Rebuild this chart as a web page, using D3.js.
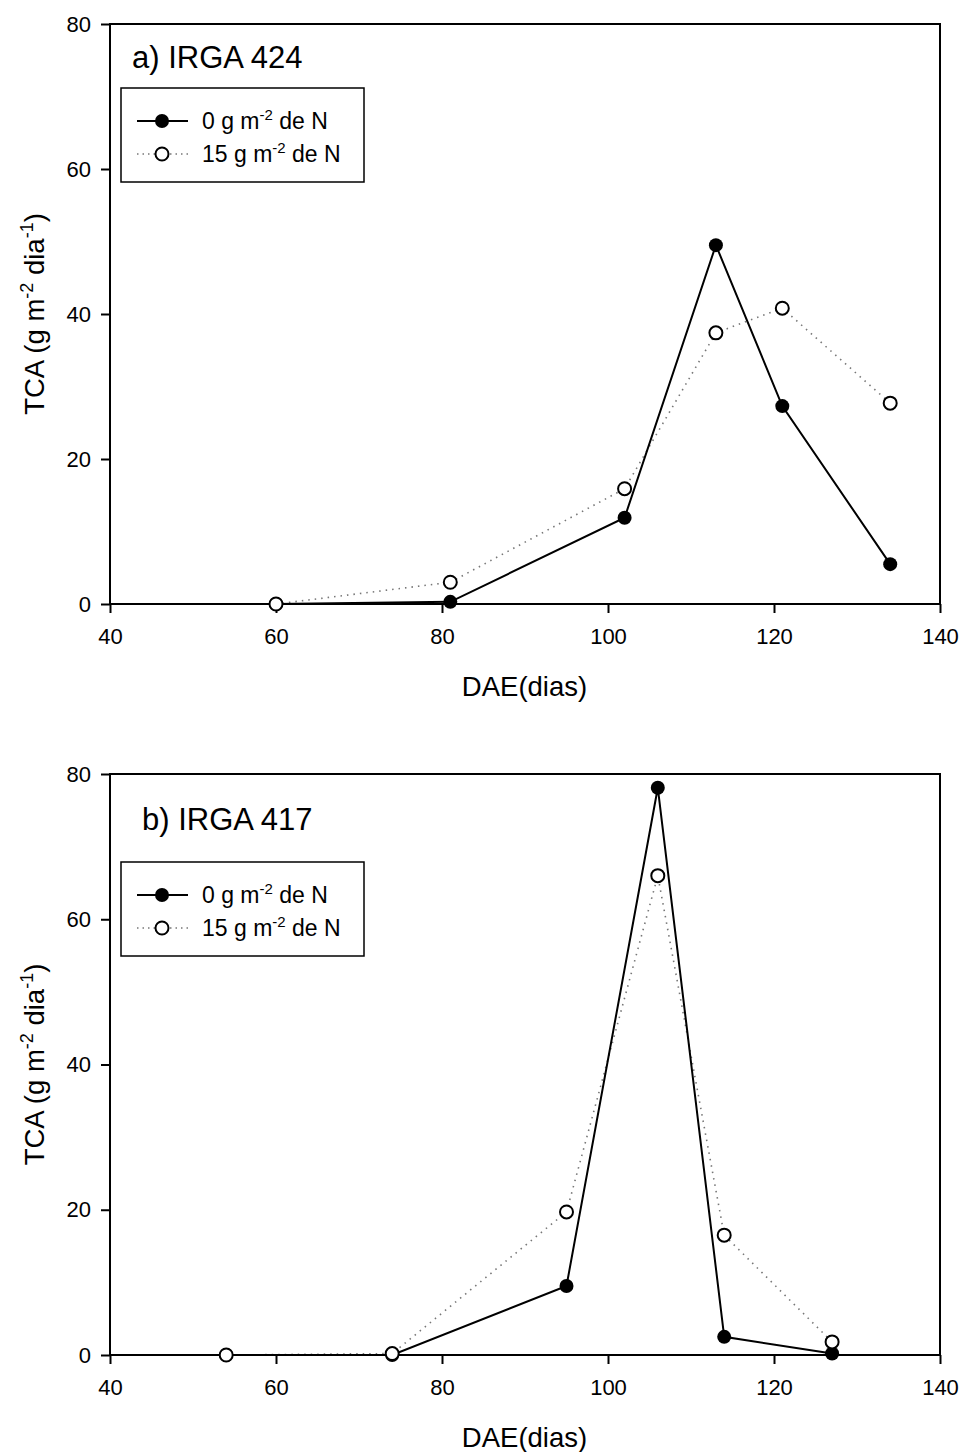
<!DOCTYPE html>
<html>
<head>
<meta charset="utf-8">
<script src="https://cdn.jsdelivr.net/npm/d3@7"></script>
<style>
  body { margin: 0; background: #fff; }
  text { font-family: Arial, "Liberation Sans", sans-serif; fill: #000; }
</style>
</head>
<body>
<svg id="chart" width="964" height="1452"></svg>
<script>
// panel a) IRGA 424
const daeA = [60, 81, 102, 113, 121, 134];
const n0A = [0, 0.3, 11.9, 49.5, 27.3, 5.5];
const n15A = [0, 3.0, 15.9, 37.4, 40.8, 27.7];

// panel b) IRGA 417
const daeB = [54, 74, 95, 106, 114, 127];
const n0B = [0, 0, 9.5, 78.1, 2.5, 0.2];
const n15B = [0, 0.2, 19.7, 66.0, 16.5, 1.8];

const xTicks = [40, 60, 80, 100, 120, 140];
const yTicks = [0, 20, 40, 60, 80];
const titles = ["a) IRGA 424", "b) IRGA 417"];
const seriesNames = [["0 g m", "-2", " de N"], ["15 g m", "-2", " de N"]];

const svg = d3.select("#chart");
const left = 110, right = 940;

function panel(top, bottom, dae, n0, n15, title, titleX, titleY, legTop) {
    const g = svg.append("g");
    const x = d3.scaleLinear().domain([40, 140]).range([left, right]);
    const y = d3.scaleLinear().domain([0, 80]).range([bottom, top]);

    // frame
    g.append("rect")
        .attr("x", left).attr("y", top)
        .attr("width", right - left).attr("height", bottom - top)
        .style("fill", "none").style("stroke", "#000").style("stroke-width", 2);

    // axes, ticks pointing out
    const xa = g.append("g").attr("transform", `translate(0,${bottom})`)
        .call(d3.axisBottom(x).tickValues(xTicks).tickSize(9).tickPadding(15).tickFormat(d3.format("d")));
    const ya = g.append("g").attr("transform", `translate(${left},0)`)
        .call(d3.axisLeft(y).tickValues(yTicks).tickSize(9).tickPadding(10).tickFormat(d3.format("d")));
    [xa, ya].forEach(a => {
        a.select(".domain").remove();
        a.selectAll(".tick line").style("stroke", "#000").style("stroke-width", 2);
        a.selectAll(".tick text").style("font-size", "22px").style("font-family", "Arial, 'Liberation Sans', sans-serif");
    });

    // axis titles
    g.append("text")
        .attr("x", (left + right) / 2 - 0.5).attr("y", bottom + 92)
        .style("text-anchor", "middle").style("font-size", "27.5px")
        .text("DAE(dias)");

    const yl = g.append("text")
        .attr("transform", `translate(44,${(top + bottom) / 2}) rotate(-90)`)
        .style("text-anchor", "middle").style("font-size", "27.5px");
    yl.append("tspan").text("TCA (g m");
    yl.append("tspan").attr("dy", -11).style("font-size", "18px").text("-2");
    yl.append("tspan").attr("dy", 11).text(" dia");
    yl.append("tspan").attr("dy", -11).style("font-size", "18px").text("-1");
    yl.append("tspan").attr("dy", 11).text(")");

    // lines
    const pts0 = dae.map((d, i) => [d, n0[i]]);
    const pts15 = dae.map((d, i) => [d, n15[i]]);
    const line = d3.line().x(d => x(d[0])).y(d => y(d[1]));

    g.append("path").datum(pts15).attr("d", line)
        .style("fill", "none").style("stroke", "#777").style("stroke-width", 1.6)
        .style("stroke-dasharray", "1.5,5");
    g.append("path").datum(pts0).attr("d", line)
        .style("fill", "none").style("stroke", "#000").style("stroke-width", 2);

    g.selectAll(".p0").data(pts0).join("circle")
        .attr("cx", d => x(d[0])).attr("cy", d => y(d[1])).attr("r", 7)
        .style("fill", "#000");
    g.selectAll(".p15").data(pts15).join("circle")
        .attr("cx", d => x(d[0])).attr("cy", d => y(d[1])).attr("r", 6.5)
        .style("fill", "#fff").style("stroke", "#000").style("stroke-width", 2);

    // panel title
    g.append("text").attr("x", titleX).attr("y", titleY)
        .style("font-size", "31px").text(title);

    // legend
    const lg = g.append("g");
    lg.append("rect").attr("x", 121).attr("y", legTop).attr("width", 243).attr("height", 94)
        .style("fill", "#fff").style("stroke", "#000").style("stroke-width", 1.5);
    seriesNames.forEach((s, i) => {
        const cy = legTop + 33 + i * 33;
        lg.append("line").attr("x1", 137).attr("x2", 188).attr("y1", cy).attr("y2", cy)
            .style("stroke", i === 0 ? "#000" : "#777")
            .style("stroke-width", i === 0 ? 2 : 1.6)
            .style("stroke-dasharray", i === 0 ? null : "1.5,4");
        lg.append("circle").attr("cx", 162).attr("cy", cy).attr("r", i === 0 ? 7 : 6.5)
            .style("fill", i === 0 ? "#000" : "#fff")
            .style("stroke", "#000").style("stroke-width", i === 0 ? 0 : 2);
        const t = lg.append("text").attr("x", 202).attr("y", cy + 8).style("font-size", "23px");
        t.append("tspan").text(s[0]);
        t.append("tspan").attr("dy", -9).style("font-size", "15px").text(s[1]);
        t.append("tspan").attr("dy", 9).text(s[2]);
    });
}

panel(24, 604, daeA, n0A, n15A, titles[0], 132, 68, 88);
panel(774, 1355, daeB, n0B, n15B, titles[1], 142, 830, 862);
</script>
</body>
</html>
